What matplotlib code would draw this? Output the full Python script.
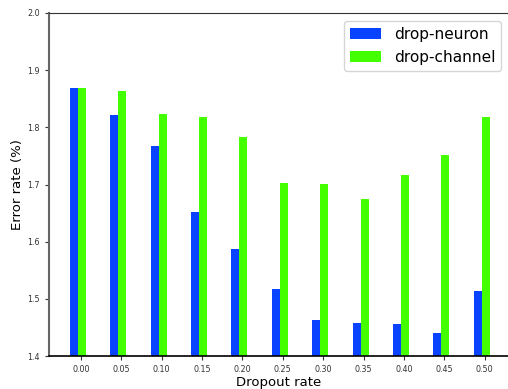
import numpy as np
import matplotlib
matplotlib.use("Agg")
import matplotlib.pyplot as plt

rates = ["0.00", "0.05", "0.10", "0.15", "0.20", "0.25",
         "0.30", "0.35", "0.40", "0.45", "0.50"]
drop_neuron = [1.869, 1.822, 1.767, 1.652, 1.587, 1.517,
               1.463, 1.458, 1.456, 1.440, 1.514]
drop_channel = [1.869, 1.863, 1.823, 1.818, 1.783, 1.703,
                1.701, 1.675, 1.717, 1.752, 1.818]

x = np.arange(len(rates))
width = 0.2

fig = plt.figure(figsize=(5.08, 3.89), dpi=100)
ax = fig.add_axes([49/508, 33/389, 460/508, 343/389])

ax.bar(x - 0.175, drop_neuron, width, color='#0a43ff', label='drop-neuron')
ax.bar(x + 0.025, drop_channel, width, color='#44ff00', label='drop-channel')

ax.set_ylim(1.4, 2.0)
ax.set_xlim(-0.79, 10.6)
ax.set_xticks(x)
ax.set_xticklabels(rates)
ax.set_yticks([1.4, 1.5, 1.6, 1.7, 1.8, 1.9, 2.0])
ax.tick_params(labelsize=5.8, colors='#333333', length=3)

ax.set_xlabel("Dropout rate", fontsize=9.5, labelpad=1.5)
ax.set_ylabel("Error rate (%)", fontsize=9.5, labelpad=2.5)

ax.spines['right'].set_visible(False)
ax.spines['left'].set_color('#666666')
ax.spines['left'].set_linewidth(1.5)
ax.spines['top'].set_color('#333333')
ax.spines['bottom'].set_color('black')
ax.spines['bottom'].set_linewidth(1.2)

ax.legend(loc='upper right', fontsize=11.1)

fig.savefig("out.png", dpi=100)
